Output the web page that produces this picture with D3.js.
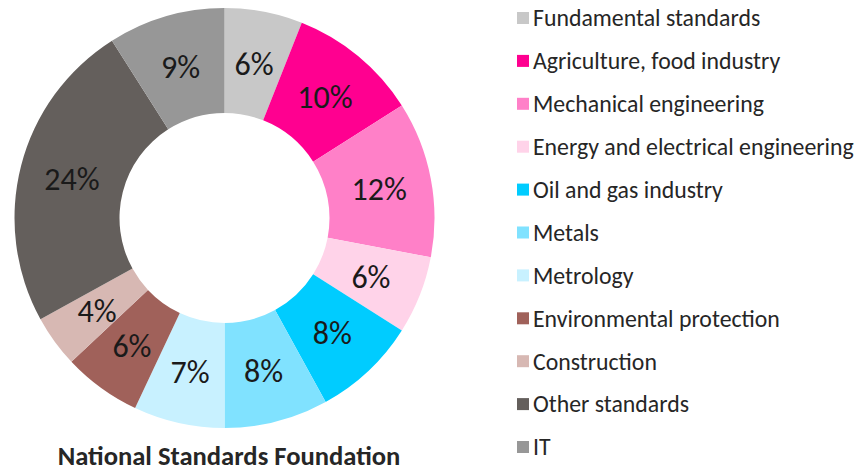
<!DOCTYPE html>
<html>
<head>
<meta charset="utf-8">
<script src="https://cdn.jsdelivr.net/npm/d3@7"></script>
<style>
    body { margin: 0; background: #fff; }
    svg { display: block; font-family: Carlito, Calibri, Lato, sans-serif; }
</style>
</head>
<body>
<svg id="chart" width="861" height="471"></svg>
<script>
var categories = ['Fundamental standards', 'Agriculture, food industry', 'Mechanical engineering',
    'Energy and electrical engineering', 'Oil and gas industry', 'Metals', 'Metrology',
    'Environmental protection', 'Construction', 'Other standards', 'IT'];
var shares = [6, 10, 12, 6, 8, 8, 7, 6, 4, 24, 9];
var colours = ['#c8c8c8', '#ff0090', '#ff80c8', '#ffd3e9', '#00ccff', '#80e2ff', '#c8f1ff',
    '#a0615a', '#d7b8b3', '#645f5c', '#979797'];
var title = 'National Standards Foundation';

var svg = d3.select('#chart');
var cx = 224.5, cy = 218, outer = 210, inner = 105;

var pie = d3.pie().sort(null).value(function (d) { return d.v; });
var arc = d3.arc().innerRadius(inner).outerRadius(outer);

var data = categories.map(function (c, i) { return { name: c, v: shares[i], col: colours[i] }; });
var slices = pie(data);

var g = svg.append('g').attr('transform', 'translate(' + cx + ',' + cy + ')');

g.selectAll('path').data(slices).enter().append('path')
    .attr('d', arc)
    .attr('fill', function (d) { return d.data.col; });

g.selectAll('text').data(slices).enter().append('text')
    .attr('transform', function (d) { return 'translate(' + arc.centroid(d) + ')'; })
    .attr('text-anchor', 'middle')
    .attr('dy', '0.36em')
    .attr('font-size', 32)
    .attr('fill', '#1a1a1a')
    .text(function (d) { return d.data.v + '%'; });

svg.append('text')
    .attr('x', 229).attr('y', 465)
    .attr('text-anchor', 'middle')
    .attr('font-size', 26.6)
    .attr('font-weight', 'bold')
    .attr('fill', '#262626')
    .text(title);

var legendY = d3.scalePoint().domain(categories).range([18, 447]);

var items = svg.append('g').selectAll('g').data(data).enter().append('g')
    .attr('transform', function (d) { return 'translate(517,' + legendY(d.name) + ')'; });

items.append('rect')
    .attr('x', 0).attr('y', -6).attr('width', 12).attr('height', 12)
    .attr('fill', function (d) { return d.col; });

items.append('text')
    .attr('x', 16).attr('dy', '0.35em')
    .attr('font-size', 23.8)
    .attr('fill', '#262626')
    .text(function (d) { return d.name; });
</script>
</body>
</html>
